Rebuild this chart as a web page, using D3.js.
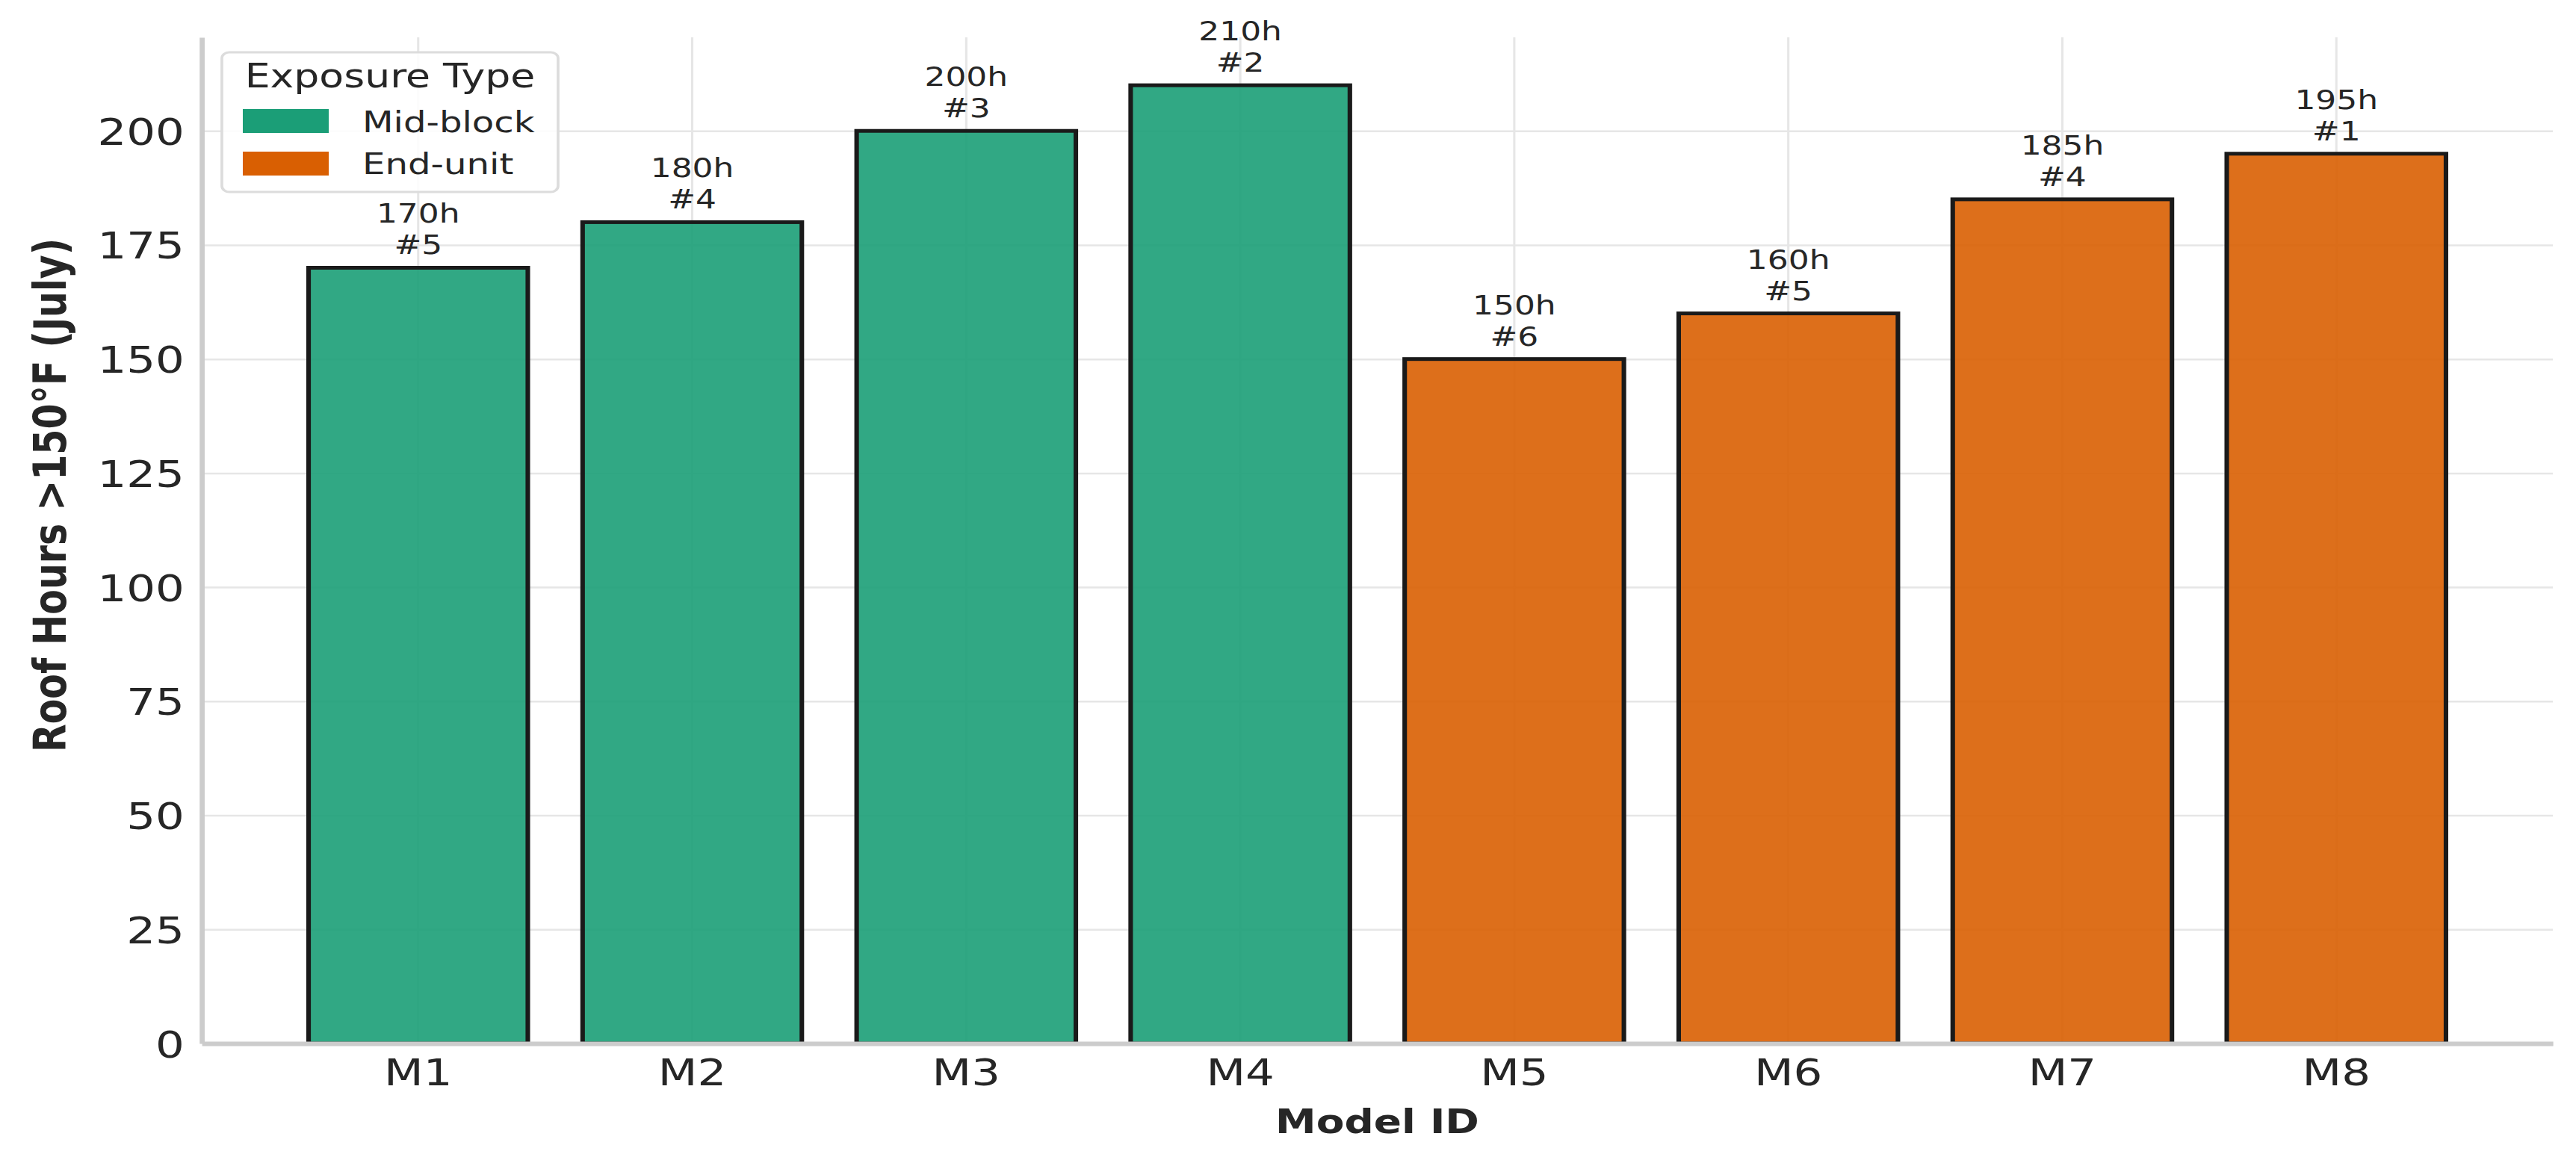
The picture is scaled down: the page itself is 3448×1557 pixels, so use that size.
<!DOCTYPE html>
<html>
<head>
<meta charset="utf-8">
<script src="https://cdn.jsdelivr.net/npm/d3@7"></script>
<style>
  body { margin: 0; background: #fff; }
  text { font-family: "DejaVu Sans", sans-serif; fill: #262626; }
</style>
</head>
<body>
<div id="chart"></div>
<script>
// chart data
var models = ["M1", "M2", "M3", "M4", "M5", "M6", "M7", "M8"];
var hours = [170, 180, 200, 210, 150, 160, 185, 195];
var exposure = ["Mid-block", "Mid-block", "Mid-block", "Mid-block", "End-unit", "End-unit", "End-unit", "End-unit"];
var ranks = ["#5", "#4", "#3", "#2", "#6", "#5", "#4", "#1"];
var exposureTypes = ["Mid-block", "End-unit"];
var exposureColors = ["#1b9e77", "#d95f02"];
var yTicks = [0, 25, 50, 75, 100, 125, 150, 175, 200];

// the picture is stretched sideways, so everything is drawn in a squeezed frame
var W = 3448, H = 1557, sx = 1.22;
var plotLeft = 270 / sx, plotRight = 3417 / sx, plotTop = 50, plotBottom = 1397;

var svg = d3.select("#chart")
  .append("svg")
    .attr("width", W)
    .attr("height", H)
  .append("g")
    .attr("transform", "scale(" + sx + ",1)");

var x = d3.scaleBand()
    .domain(models)
    .range([plotLeft, plotRight])
    .paddingInner(0.2)
    .paddingOuter(0.39);

var y = d3.scaleLinear()
    .domain([0, 220.5])
    .range([plotBottom, plotTop]);

var color = d3.scaleOrdinal().domain(exposureTypes).range(exposureColors);

// grid
svg.append("g")
    .attr("transform", "translate(" + plotLeft + ",0)")
    .call(d3.axisLeft(y).tickValues(yTicks.slice(1)).tickSize(-(plotRight - plotLeft)).tickFormat(""))
    .call(g => g.select(".domain").remove())
    .call(g => g.selectAll("line").attr("stroke", "#e6e6e6").attr("stroke-width", 2.5));

svg.append("g")
    .attr("transform", "translate(0," + plotBottom + ")")
    .call(d3.axisBottom(x).tickSize(-(plotBottom - plotTop)).tickFormat(""))
    .call(g => g.select(".domain").remove())
    .call(g => g.selectAll("line").attr("stroke", "#e6e6e6").attr("stroke-width", 2.5));

// bars
svg.selectAll("rect.bar")
  .data(models)
  .enter()
  .append("rect")
    .attr("class", "bar")
    .attr("x", d => x(d))
    .attr("y", (d, i) => y(hours[i]))
    .attr("width", x.bandwidth())
    .attr("height", (d, i) => y(0) - y(hours[i]))
    .attr("fill", (d, i) => color(exposure[i]))
    .attr("fill-opacity", 0.9)
    .attr("stroke", "#1a1a1a")
    .attr("stroke-width", 5);

// value + rank labels
var labels = svg.selectAll("text.val")
  .data(models)
  .enter()
  .append("text")
    .attr("class", "val")
    .attr("text-anchor", "middle")
    .style("font-size", "36px");
labels.append("tspan")
    .attr("x", d => x(d) + x.bandwidth() / 2)
    .attr("y", (d, i) => y(hours[i]) - 60)
    .text((d, i) => hours[i] + "h");
labels.append("tspan")
    .attr("x", d => x(d) + x.bandwidth() / 2)
    .attr("y", (d, i) => y(hours[i]) - 18)
    .text((d, i) => ranks[i]);

// axes
var yAxis = svg.append("g")
    .attr("transform", "translate(" + plotLeft + ",0)")
    .call(d3.axisLeft(y).tickValues(yTicks).tickSize(0).tickPadding(19));
yAxis.select(".domain").attr("stroke", "#cccccc").attr("stroke-width", 5.5);
yAxis.selectAll("text").style("font-size", "50px").attr("dy", "0.36em").style("fill", "#262626");

var xAxis = svg.append("g")
    .attr("transform", "translate(0," + plotBottom + ")")
    .call(d3.axisBottom(x).tickSize(0).tickPadding(0));
xAxis.select(".domain").attr("stroke", "#cccccc").attr("stroke-width", 6);
xAxis.selectAll("text").style("font-size", "50px").attr("dy", null).attr("y", 56).style("fill", "#262626");

// axis titles
svg.append("text")
    .attr("transform", "translate(" + (88 / sx) + ",663) rotate(-90)")
    .attr("text-anchor", "middle")
    .style("font-size", "49px")
    .style("font-weight", "bold")
    .text("Roof Hours >150°F (July)");

svg.append("text")
    .attr("x", (plotLeft + plotRight) / 2)
    .attr("y", 1517)
    .attr("text-anchor", "middle")
    .style("font-size", "45px")
    .style("font-weight", "bold")
    .text("Model ID");

// legend
var lg = svg.append("g");
lg.append("rect")
    .attr("x", 297 / sx).attr("y", 70)
    .attr("width", 450 / sx).attr("height", 187)
    .attr("rx", 8).attr("ry", 8)
    .attr("fill", "#fff").attr("fill-opacity", 0.85)
    .attr("stroke", "#dcdcdc").attr("stroke-width", 3);
lg.append("text")
    .attr("x", 522 / sx).attr("y", 117)
    .attr("text-anchor", "middle")
    .style("font-size", "44px")
    .text("Exposure Type");
exposureTypes.forEach(function(t, i) {
  lg.append("rect")
    .attr("x", 325 / sx).attr("y", 146 + i * 57)
    .attr("width", 115 / sx).attr("height", 32)
    .attr("fill", color(t));
  lg.append("text")
    .attr("x", 485 / sx).attr("y", 177 + i * 56)
    .style("font-size", "39.5px")
    .text(t);
});
</script>
</body>
</html>
